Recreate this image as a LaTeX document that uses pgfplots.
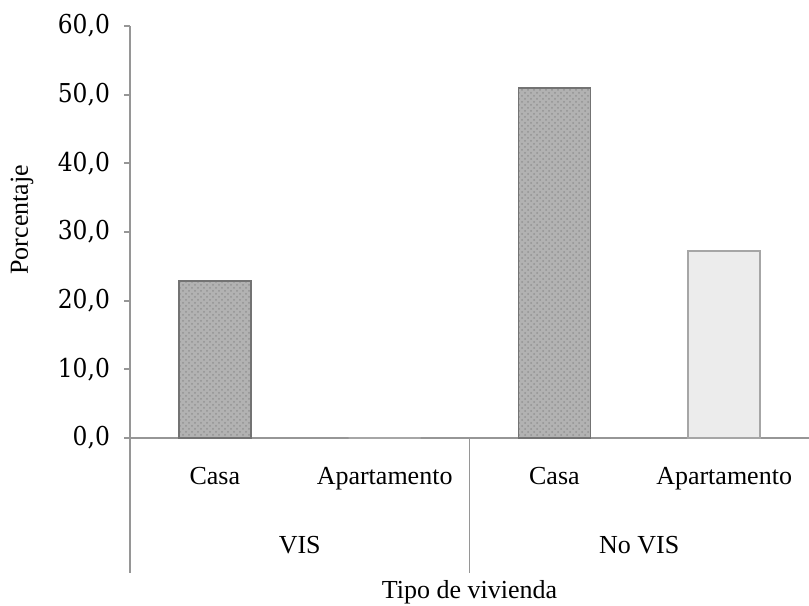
\documentclass[border=0pt]{standalone}
\usepackage{fontspec}
\setmainfont{Liberation Serif}
\newfontfamily\tickfont{DejaVu Serif Condensed}
\usepackage{pgfplots}
\pgfplotsset{compat=1.18}
\usetikzlibrary{patterns}

\definecolor{axisgray}{RGB}{150,150,150}
\definecolor{granite}{RGB}{178,178,178}
\definecolor{marble}{RGB}{236,236,236}

\begin{document}
\begin{tikzpicture}
\begin{axis}[
    scale only axis,
    width=339.5pt, height=206pt,
    xmin=-0.5, xmax=3.5,
    ymin=0, ymax=60,
    axis lines*=left,
    axis line style={axisgray, line width=0.9pt},
    clip=false,
    ytick={0,10,...,60},
    ytick style={axisgray, line width=0.9pt},
    major tick length=3pt,
    tick align=outside,
    /pgf/number format/.cd, fixed, fixed zerofill, precision=1, use comma, assume math mode=true,
    /pgfplots/.cd,
    yticklabel style={font=\tickfont\fontsize{13}{15}\selectfont, xshift=-3.5pt},
    xtick={0,1,2,3},
    xticklabels={Casa, Apartamento, Casa, Apartamento},
    x tick style={draw=none},
    xticklabel style={font=\fontsize{13}{15}\selectfont, yshift=-8pt},
    ybar, bar width=36pt, bar shift=0pt,
]
% Casa
\addplot[fill=granite, draw=gray!90!black, line width=0.8pt,
  postaction={pattern=crosshatch dots, pattern color=gray!85}]
  coordinates {(0,22.9) (2,51.0)};
% Apartamento
\addplot[fill=marble, draw=gray!70, line width=0.8pt]
  coordinates {(1,0) (3,27.2)};

% group separators below the category axis
\draw[axisgray, line width=0.9pt] (axis cs:-0.5,0) -- ([yshift=-67.5pt]axis cs:-0.5,0);
\draw[axisgray, line width=0.9pt] (axis cs:1.5,0) -- ([yshift=-67.5pt]axis cs:1.5,0);

\node[font=\fontsize{13}{15}\selectfont] at ([yshift=-53.5pt]axis cs:0.5,0) {VIS};
\node[font=\fontsize{13}{15}\selectfont] at ([yshift=-53.5pt]axis cs:2.5,0) {No VIS};
\node[font=\fontsize{13}{15}\selectfont] at ([yshift=-77pt]axis cs:1.5,0) {Tipo de vivienda};
\node[font=\fontsize{13}{15}\selectfont, rotate=90] at ([xshift=-54pt]rel axis cs:0,0.53) {Porcentaje};
\end{axis}
\pgfresetboundingbox
\path ([xshift=-65pt, yshift=-84pt]current axis.south west) rectangle ([yshift=13pt]current axis.north east);
\end{tikzpicture}
\end{document}
